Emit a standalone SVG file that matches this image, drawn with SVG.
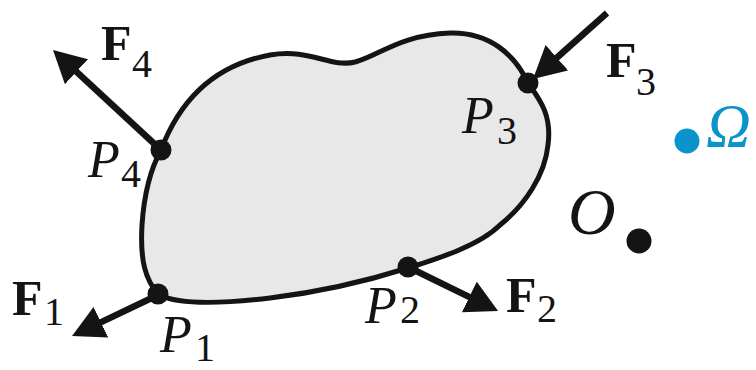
<svg xmlns="http://www.w3.org/2000/svg" width="756" height="370" viewBox="0 0 756 370">
<style>
.body{fill:#e8e8e8;stroke:#141414;stroke-width:5;stroke-linejoin:round}
.vec{stroke:#141414;stroke-width:6.5;fill:none;marker-end:url(#ah)}
.pt{fill:#141414}
.it{font-family:"Liberation Serif",serif;font-style:italic;fill:#141414}
.bf{font-family:"Liberation Serif",serif;font-weight:bold;font-size:50px;fill:#141414}
.sub{font-family:"Liberation Serif",serif;font-style:normal;font-weight:normal;font-size:40px}
.blue{fill:#0b94cc}
</style>
<defs>
<marker id="ah" markerUnits="userSpaceOnUse" viewBox="0 0 32 34" refX="2" refY="17" markerWidth="32" markerHeight="34" orient="auto">
<path d="M0,0 L32,17 L0,34 Z" fill="#141414"/>
</marker>
</defs>
<g id="body">
<path class="body" d="M159,295 C145,280 140,260 142,225 C144,195 150,170 161,150 C180,100 215,65 270,55 C310,48 330,68 355,62 C380,55 400,35 450,33 C490,32 515,55 528,83 C540,100 552,115 548,145 C545,175 525,205 500,225 C480,245 440,258 408,268 C370,280 320,292 270,298 C220,304 180,305 159,295 Z"/>
</g>
<g id="connectors">
<line class="vec" x1="161" y1="150" x2="75" y2="70.4"/>
<line class="vec" x1="607" y1="13" x2="555.4" y2="59"/>
<line class="vec" x1="158" y1="295" x2="99.1" y2="323.1"/>
<line class="vec" x1="408" y1="267" x2="471.1" y2="297.8"/>
</g>
<g id="P1"><circle class="pt" cx="158" cy="294" r="10.5"/><text class="it" font-size="52" x="160" y="352">P<tspan class="sub" x="195" y="361">1</tspan></text></g>
<g id="P2"><circle class="pt" cx="408" cy="267" r="10.5"/><text class="it" font-size="52" x="365" y="323">P<tspan class="sub" x="400" y="323">2</tspan></text></g>
<g id="P3"><circle class="pt" cx="528" cy="83" r="10.5"/><text class="it" font-size="52" x="462" y="133">P<tspan class="sub" x="497" y="144">3</tspan></text></g>
<g id="P4"><circle class="pt" cx="161" cy="150" r="10.5"/><text class="it" font-size="52" x="88" y="177">P<tspan class="sub" x="121" y="187">4</tspan></text></g>
<g id="F1"><text class="bf" x="12" y="315">F<tspan class="sub" x="44" y="325">1</tspan></text></g>
<g id="F2"><text class="bf" x="506" y="312">F<tspan class="sub" x="537" y="322">2</tspan></text></g>
<g id="F3"><text class="bf" x="606" y="77">F<tspan class="sub" x="636" y="95">3</tspan></text></g>
<g id="F4"><text class="bf" x="101" y="60">F<tspan class="sub" x="132" y="77">4</tspan></text></g>
<g id="O"><circle class="pt" cx="639" cy="241" r="12.5"/><text class="it" font-size="66" x="568" y="234">O</text></g>
<g id="Omega"><circle class="blue" cx="687" cy="141" r="12.5"/><text class="it blue" font-size="62" x="706" y="146">Ω</text></g>
</svg>
